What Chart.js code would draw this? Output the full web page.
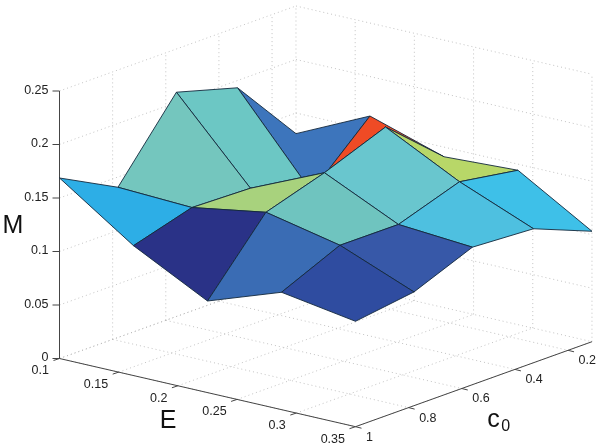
<!DOCTYPE html>
<html>
<head>
<meta charset="utf-8">
<title>M surface</title>
<script src="https://cdn.jsdelivr.net/npm/chart.js@4"></script>
<style>
  body { margin: 0; background: #fff; }
  canvas { display: block; }
</style>
</head>
<body>
<canvas id="chart" width="600" height="447"></canvas>
<script>
// grid of the surface
const eValues = [0.1, 0.1625, 0.225, 0.2875, 0.35];
const c0Values = [1, 0.78, 0.56, 0.33, 0.11];

// M per E (rows) and c0 (columns)
const mRowE0 = [0.1687, 0.1404, 0.2096, 0.1932, 0.1307];
const mRowE1 = [0.1214, 0.1374, 0.1358, 0.1120, 0.1631];
const mRowE2 = [0.0856, 0.1489, 0.1662, 0.1884, 0.1410];
const mRowE3 = [0.1097, 0.1340, 0.1338, 0.1532, 0.1443];
const mRowE4 = [0.0985, 0.1063, 0.1285, 0.1252, 0.1032];
const mValues = [mRowE0, mRowE1, mRowE2, mRowE3, mRowE4];

// tick labels
const eTicks = ['0.1', '0.15', '0.2', '0.25', '0.3', '0.35'];
const c0Ticks = ['0.2', '0.4', '0.6', '0.8', '1'];
const mTicks = ['0', '0.05', '0.1', '0.15', '0.2', '0.25'];

// flat colour of each cell
const faceColors = [
  ['#2daee6', '#74c6be', '#6cc7c4', '#3d75bc'],
  ['#2a3287', '#a8d27d', '#6cc7c4', '#ef4b25'],
  ['#3a6cb4', '#6fc4bf', '#69c6ce', '#b8d768'],
  ['#2f4ca0', '#3758a8', '#4ec0e0', '#3ec0e8']
];

const eMin = 0.1, eMax = 0.35, cMin = 0.11, cMax = 1, mMax = 0.25;

// orthographic view, result is in page pixels
const project = (e, c, m) => ({
  x: 59.5 + (e - eMin) * 1184 + (cMax - c) * 265.7,
  y: 358.5 + (e - eMin) * 272.8 - (cMax - c) * 95.5 - m * 1070
});

const datasets = [];
const addLine = (points, color, width, dash) => datasets.push({
  data: points, showLine: true, fill: false, borderColor: color,
  borderWidth: width, borderDash: dash || [], pointRadius: 0, tension: 0
});

// dotted walls and floor
const gridColor = '#b4b4b4';
const gridDash = [1, 3];
const addGrid = (a, b) => addLine([a, b], gridColor, 0.8, gridDash);

mTicks.map(Number).forEach(m => {
  addGrid(project(eMin, cMax, m), project(eMin, cMin, m));
  addGrid(project(eMin, cMin, m), project(eMax, cMin, m));
});
eTicks.map(Number).forEach(e => {
  addGrid(project(e, cMax, 0), project(e, cMin, 0));
  addGrid(project(e, cMin, 0), project(e, cMin, mMax));
});
c0Ticks.map(Number).forEach(c => {
  addGrid(project(eMin, c, 0), project(eMax, c, 0));
  addGrid(project(eMin, c, 0), project(eMin, c, mMax));
});

// axes and ticks
const axisColor = '#454545';
addLine([project(eMin, cMax, 0), project(eMin, cMax, mMax)], axisColor, 1);
addLine([project(eMin, cMax, 0), project(eMax, cMax, 0)], axisColor, 1);
addLine([project(eMax, cMax, 0), project(eMax, cMin, 0)], axisColor, 1);
const shift = (p, dx, dy) => ({ x: p.x + dx, y: p.y + dy });
mTicks.map(Number).forEach(m => {
  const p = project(eMin, cMax, m);
  addLine([p, shift(p, -7, 0)], axisColor, 1);
});
eTicks.map(Number).forEach(e => {
  const p = project(e, cMax, 0);
  addLine([p, shift(p, -6, 2)], axisColor, 1);
});
c0Ticks.map(Number).forEach(c => {
  const p = project(eMax, c, 0);
  addLine([p, shift(p, 6, 1.5)], axisColor, 1);
});

// surface, far cells first
for (let i = 0; i < eValues.length - 1; i++) {
  for (let j = c0Values.length - 2; j >= 0; j--) {
    const corner = (a, b) => project(eValues[a], c0Values[b], mValues[a][b]);
    const first = corner(i, j);
    datasets.push({
      data: [first, corner(i, j + 1), corner(i + 1, j + 1), corner(i + 1, j), first],
      showLine: true,
      fill: 'shape',
      backgroundColor: faceColors[i][j],
      borderColor: '#13283c',
      borderWidth: 0.9,
      pointRadius: 0,
      tension: 0
    });
  }
}

// the first dataset is painted last, so count down
datasets.forEach((d, idx) => { d.order = datasets.length - idx; });

const axisText = {
  id: 'axisText',
  afterDraw(chart) {
    const ctx = chart.ctx;
    const { x: sx, y: sy } = chart.scales;
    const put = (text, p, dx, dy, align, font) => {
      ctx.font = font;
      ctx.textAlign = align;
      ctx.textBaseline = 'middle';
      ctx.fillText(text, sx.getPixelForValue(p.x) + dx, sy.getPixelForValue(p.y) + dy);
    };
    const tickFont = '12.5px "Liberation Sans"';
    const titleFont = '25px "Liberation Sans"';
    ctx.save();
    ctx.fillStyle = '#222';
    mTicks.forEach(t => put(t, project(eMin, cMax, Number(t)), -11, -0.5, 'right', tickFont));
    eTicks.forEach(t => put(t, project(Number(t), cMax, 0), -10.5, 12.5, 'right', tickFont));
    c0Ticks.forEach(t => put(t, project(eMax, Number(t), 0), 10.5, 10.5, 'left', tickFont));

    ctx.fillStyle = '#111';
    put('M', project(eMin, cMax, 0), -57, -132, 'left', titleFont);
    put('E', project(eMin + 0.125 - 0.03, cMax, 0), -4, 37, 'center', titleFont);
    put('c', project(eMax, 0.5, 0), -1, 41, 'left', titleFont);
    put('0', project(eMax, 0.5, 0), 13, 48, 'left', '16px "Liberation Sans"');
    ctx.restore();
  }
};

new Chart(document.getElementById('chart'), {
  type: 'scatter',
  data: { datasets },
  plugins: [axisText],
  options: {
    responsive: false,
    animation: false,
    layout: { padding: 0 },
    plugins: { legend: { display: false }, tooltip: { enabled: false } },
    scales: {
      x: { type: 'linear', min: 0, max: 600, display: false },
      y: { type: 'linear', min: 0, max: 447, reverse: true, display: false }
    }
  }
});
</script>
</body>
</html>
